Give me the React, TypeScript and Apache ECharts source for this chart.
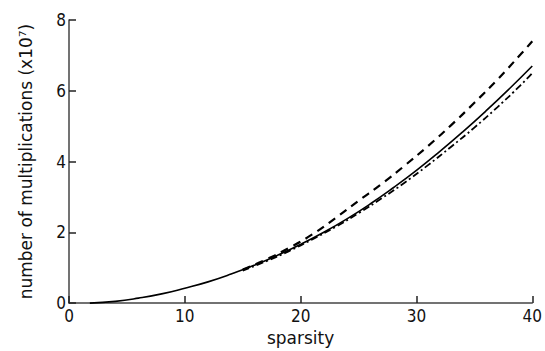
import React, { useEffect, useRef } from "react";
import * as echarts from "echarts";

const xTicks = [0, 10, 20, 30, 40];
const yTicks = [0, 2, 4, 6, 8];

// solid curve
const solidX = [1.8, 4, 6, 8, 10, 12, 14, 16, 18, 20, 22, 24, 26, 28, 30, 32, 34, 36, 38, 40];
const solidY = [0.0, 0.05, 0.14, 0.26, 0.42, 0.6, 0.82, 1.07, 1.35, 1.66, 2.0, 2.38, 2.8, 3.26, 3.75, 4.28, 4.84, 5.43, 6.05, 6.7];

// dashed curve
const dashedX = [15, 17, 19, 21, 23, 25, 27, 29, 31, 33, 35, 37, 39, 40];
const dashedY = [0.95, 1.23, 1.56, 1.94, 2.4, 2.89, 3.37, 3.89, 4.44, 5.03, 5.66, 6.32, 7.03, 7.4];

// dash-dot curve
const dotX = [15, 17, 19, 21, 23, 25, 27, 29, 31, 33, 35, 37, 39, 40];
const dotY = [0.92, 1.18, 1.47, 1.8, 2.15, 2.54, 2.96, 3.41, 3.9, 4.42, 4.96, 5.54, 6.16, 6.5];

const pairs = (xs: number[], ys: number[]) => xs.map((x, i) => [x, ys[i]]);

const FONT = "'DejaVu Sans Condensed', 'DejaVu Sans', sans-serif";
const NAME_FONT = "'DejaVu Sans', sans-serif";

export default function App() {
  const ref = useRef<HTMLDivElement>(null);
  useEffect(() => {
    if (!ref.current) return;
    const chart = echarts.init(ref.current, undefined, { renderer: "svg" });
    chart.setOption({
      animation: false,
      backgroundColor: "#ffffff",
      textStyle: { fontFamily: FONT },
      grid: { left: 69, right: 9, top: 20, bottom: 47, containLabel: false },
      xAxis: {
        type: "value",
        min: xTicks[0],
        max: xTicks[xTicks.length - 1],
        interval: 10,
        name: "sparsity",
        nameLocation: "middle",
        nameGap: 20,
        nameTextStyle: { fontFamily: NAME_FONT, fontSize: 17, color: "#111" },
        axisLine: { show: true, lineStyle: { color: "#444", width: 1.5 } },
        axisTick: { show: true, inside: true, length: 7, lineStyle: { color: "#222", width: 1.5 } },
        axisLabel: { fontFamily: FONT, fontSize: 17, color: "#111", margin: 4 },
        splitLine: { show: false },
      },
      yAxis: {
        type: "value",
        min: yTicks[0],
        max: yTicks[yTicks.length - 1],
        interval: 2,
        name: "number of multiplications (x10⁷)",
        nameLocation: "middle",
        nameGap: 35,
        nameTextStyle: { fontFamily: NAME_FONT, fontSize: 17, color: "#111" },
        axisLine: { show: true, lineStyle: { color: "#444", width: 1.5 } },
        axisTick: { show: true, inside: true, length: 7, lineStyle: { color: "#222", width: 1.5 } },
        axisLabel: { fontFamily: FONT, fontSize: 17, color: "#111", margin: 3 },
        splitLine: { show: false },
      },
      series: [
        {
          type: "line",
          data: pairs(solidX, solidY),
          smooth: true,
          showSymbol: false,
          lineStyle: { color: "#000", width: 1.6, type: "solid" },
        },
        {
          type: "line",
          data: pairs(dashedX, dashedY),
          smooth: true,
          showSymbol: false,
          lineStyle: { color: "#000", width: 2.2, type: [8, 6] },
        },
        {
          type: "line",
          data: pairs(dotX, dotY),
          smooth: true,
          showSymbol: false,
          lineStyle: { color: "#000", width: 1.8, type: [7, 3, 2, 3] },
        },
      ],
    });
    return () => chart.dispose();
  }, []);
  return (
    <div
      ref={ref}
      style={{ position: "fixed", left: 0, top: 0, width: 545, height: 351, background: "#fff" }}
    />
  );
}
